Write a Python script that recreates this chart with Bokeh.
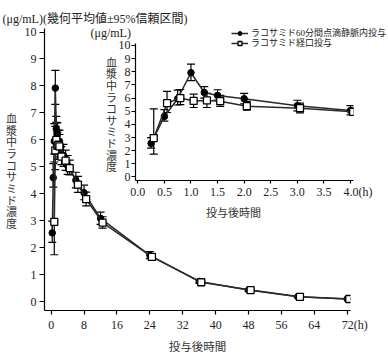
from bokeh.plotting import figure
from bokeh.models import (ColumnDataSource, Range1d, Whisker, TeeHead, Legend,
                          LegendItem, FixedTicker, Title, NumeralTickFormatter)
from bokeh.transform import dodge
from bokeh.embed import file_html
from bokeh.resources import INLINE
from bokeh.core.properties import value

# ---- data (geometric mean and 95% CI, ug/mL) ----
hours = [0.25, 0.5, 0.75, 1.0, 1.25, 1.5, 2, 3, 4, 6, 8, 12, 24, 36, 48, 60, 72]
iv_mean = [2.55, 4.6, 5.95, 7.92, 6.42, 6.2, 5.95, 5.42, 5.05, 4.5, 4.04, 3.09, 1.72, 0.75, 0.43, 0.18, 0.10]
iv_lo = [2.2, 4.25, 5.47, 7.32, 6.0, 5.85, 5.55, 5.02, 4.72, 4.22, 3.78, 2.87, 1.6, 0.69, 0.38, 0.15, 0.08]
iv_hi = [2.99, 5.12, 6.6, 8.58, 6.87, 6.63, 6.36, 5.83, 5.42, 4.8, 4.32, 3.32, 1.86, 0.82, 0.48, 0.21, 0.12]
po_mean = [2.96, 5.61, 6.0, 5.78, 5.82, 5.76, 5.38, 5.23, 4.95, 4.34, 3.8, 2.93, 1.66, 0.72, 0.43, 0.18, 0.10]
po_lo = [1.74, 4.9, 5.5, 5.28, 5.28, 5.37, 5.08, 4.87, 4.7, 4.05, 3.55, 2.73, 1.54, 0.66, 0.38, 0.15, 0.08]
po_hi = [5.18, 6.5, 6.65, 6.29, 6.35, 6.2, 5.75, 5.62, 5.25, 4.65, 4.06, 3.15, 1.78, 0.78, 0.48, 0.21, 0.12]

main_x_ticks = [0, 8, 16, 24, 32, 40, 48, 56, 64, 72]
y_ticks = [0, 1, 2, 3, 4, 5, 6, 7, 8, 9, 10]
inset_x_ticks = [0, 0.5, 1.0, 1.5, 2.0, 2.5, 3.0, 3.5, 4.0]
inset_max_hour = 4

label_iv = "ラコサミド60分間点滴静脈内投与"
label_po = "ラコサミド経口投与"
y_title = "血漿中ラコサミド濃度"
x_title = "投与後時間"
unit_text = "(μg/mL)"
note_text = "(幾何平均値±95%信頼区間)"
hour_unit = "(h)"

SERIF = "Liberation Serif"
JP = "Noto Sans CJK JP"
MIX = "Liberation Serif, Noto Sans CJK JP"
LINE = "#2a2a2a"
NB = "\u00a0"

src_iv = ColumnDataSource(dict(t=hours, c=iv_mean, lo=iv_lo, hi=iv_hi))
src_po = ColumnDataSource(dict(t=hours, c=po_mean, lo=po_lo, hi=po_hi))
n_in = sum(1 for h in hours if h <= inset_max_hour)
src_iv_in = ColumnDataSource(dict(t=hours[:n_in], c=iv_mean[:n_in], lo=iv_lo[:n_in], hi=iv_hi[:n_in]))
src_po_in = ColumnDataSource(dict(t=hours[:n_in], c=po_mean[:n_in], lo=po_lo[:n_in], hi=po_hi[:n_in]))

IV_LINE = dict(line_color=LINE, line_width=1.5)
IV_MARK = dict(marker="circle", size=6.5, fill_color="black", line_color="black")
PO_LINE = dict(line_color=LINE, line_width=1.5)
PO_MARK = dict(marker="square", size=7, fill_color="white", line_color="black", line_width=1.3)


def style_axes(p, tick_out, std):
    for ax in (p.xaxis, p.yaxis):
        ax.axis_line_color = "black"
        ax.axis_line_width = 1.2
        ax.major_tick_line_color = "black"
        ax.major_tick_line_width = 1.2
        ax.major_tick_in = 0
        ax.major_tick_out = tick_out
        ax.minor_tick_line_color = None
        ax.major_label_text_font = SERIF
        ax.major_label_text_font_size = "12px"
        ax.major_label_text_color = "#222222"
        ax.major_label_standoff = std
        ax.axis_label_text_font = JP
        ax.axis_label_text_font_style = "normal"
        ax.axis_label_text_font_size = "11px"
        ax.axis_label_text_color = "#333333"
    p.xgrid.grid_line_color = None
    p.ygrid.grid_line_color = None
    p.outline_line_color = None


def add_series(p, s_iv, s_po, shift):
    xr = p.x_range
    for src, xs in ((s_iv, "t"), (s_po, dodge("t", shift, range=xr))):
        w = Whisker(source=src, base=xs, upper="hi", lower="lo", dimension="height",
                    line_color="black", line_width=1.2, level="underlay",
                    upper_head=TeeHead(size=8, line_color="black", line_width=1.2),
                    lower_head=TeeHead(size=8, line_color="black", line_width=1.2))
        p.add_layout(w)
    r_iv = [p.line(x="t", y="c", source=s_iv, **IV_LINE),
            p.scatter(x="t", y="c", source=s_iv, **IV_MARK)]
    r_po = [p.line(x=dodge("t", shift, range=xr), y="c", source=s_po, **PO_LINE),
            p.scatter(x=dodge("t", shift, range=xr), y="c", source=s_po, **PO_MARK)]
    return r_iv, r_po


def bare(f, left, top):
    f.styles = {"position": "absolute", "left": "%dpx" % left, "top": "%dpx" % top}
    f.background_fill_alpha = 0
    f.border_fill_alpha = 0
    f.outline_line_color = None
    f.xgrid.grid_line_color = None
    f.ygrid.grid_line_color = None
    return f


def vertical_label(text, center_x, first_row_y, pitch, pad=1.0):
    # tategaki: one upright character per row, row index mapped to pixels by the y range
    chars = list(text)
    n = len(chars)
    width = 22
    f = figure(width=width, height=int(round((n + 2 * pad) * pitch)), x_range=Range1d(0, 1),
               y_range=Range1d(n - 0.5 + pad, -0.5 - pad), output_backend="svg",
               toolbar_location=None, min_border=0, x_axis_type=None, y_axis_type=None)
    bare(f, int(round(center_x - width / 2)), int(round(first_row_y - (0.5 + pad) * pitch)))
    src = ColumnDataSource(dict(row=list(range(n)), ch=chars))
    f.text(x=0.5, y="row", text="ch", source=src, text_align="center", text_baseline="middle",
           text_font=value(JP), text_font_size="11px", text_color="#333333")
    return f


# ---------------- main chart ----------------
main = figure(width=382, height=350, x_range=Range1d(-1.63, 72.8), y_range=Range1d(-0.327, 10.13),
              output_backend="svg", toolbar_location=None,
              min_border_left=42, min_border_right=34, min_border_top=22, min_border_bottom=40)
main.styles = {"position": "absolute", "left": "2px", "top": "6px"}
style_axes(main, 5, 3)
main.xaxis.major_tick_out = 4
main.xaxis.ticker = FixedTicker(ticks=main_x_ticks)
main.xaxis.major_label_overrides = {main_x_ticks[-1]: NB * 5 + str(main_x_ticks[-1]) + hour_unit}
main.yaxis.ticker = FixedTicker(ticks=y_ticks)
main.xaxis.axis_label = x_title
main.xaxis.axis_label_standoff = 3
main.xaxis.axis_label_text_font_size = "11.5px"
add_series(main, src_iv, src_po, 0.5)
main.add_layout(Title(text=unit_text + note_text, align="left", offset=-42, standoff=5,
                      text_font=MIX, text_font_size="12px", text_font_style="normal",
                      text_color="#222222"), "above")

# ---------------- inset chart ----------------
inset = figure(width=296, height=202, x_range=Range1d(-0.043, 4.056), y_range=Range1d(-0.268, 10.145),
               output_backend="svg", toolbar_location=None,
               min_border_left=51, min_border_right=27, min_border_top=22, min_border_bottom=36)
inset.styles = {"position": "absolute", "left": "84px", "top": "20px"}
inset.background_fill_alpha = 0
inset.border_fill_alpha = 0
style_axes(inset, 4, 1)
inset.xaxis.major_tick_out = 3
inset.xaxis.ticker = FixedTicker(ticks=inset_x_ticks)
inset.xaxis.formatter = NumeralTickFormatter(format="0.0")
inset.xaxis.major_label_overrides = {inset_x_ticks[-1]: NB * 5 + "%.1f" % inset_x_ticks[-1] + hour_unit}
inset.yaxis.ticker = FixedTicker(ticks=y_ticks)
inset.xaxis.axis_label = x_title + "\u3000\u3000"
inset.xaxis.axis_label_standoff = 2
add_series(inset, src_iv_in, src_po_in, 0.05)
inset.add_layout(Title(text=unit_text, align="left", offset=-45, standoff=7,
                       text_font=SERIF, text_font_size="12px", text_font_style="normal",
                       text_color="#222222"), "above")

# ---------------- vertical y-axis titles ----------------
ylab_main = vertical_label(y_title, 11, 118, 11.7)
ylab_inset = vertical_label(y_title, 111, 61, 11.6)


# ---------------- legend rows (own transparent canvases above the inset) ----------------
# the series are re-plotted on a range that shows none of them; only their legend glyphs appear
def legend_row(label, src, line_kw, mark_kw, top):
    f = figure(width=157, height=13, x_range=Range1d(0, 1), y_range=Range1d(-2, -1),
               output_backend="svg", toolbar_location=None, min_border=0,
               x_axis_type=None, y_axis_type=None)
    bare(f, 231, top)
    rs = [f.line(x="t", y="c", source=src, **line_kw), f.scatter(x="t", y="c", source=src, **mark_kw)]
    lg = Legend(items=[LegendItem(label=label, renderers=rs)], location="top_left",
                label_text_font=MIX, label_text_font_size="9px", label_text_color="#222222",
                glyph_width=17, glyph_height=10, label_height=10, label_standoff=3,
                spacing=0, padding=0, margin=0, border_line_alpha=0, background_fill_alpha=0)
    f.add_layout(lg, "center")
    return f


leg1 = legend_row(label_iv, src_iv, IV_LINE, IV_MARK, 26)
leg2 = legend_row(label_po, src_po, PO_LINE, PO_MARK, 36)

open("out.html", "w").write(file_html([main, inset, ylab_main, ylab_inset, leg1, leg2], INLINE))
